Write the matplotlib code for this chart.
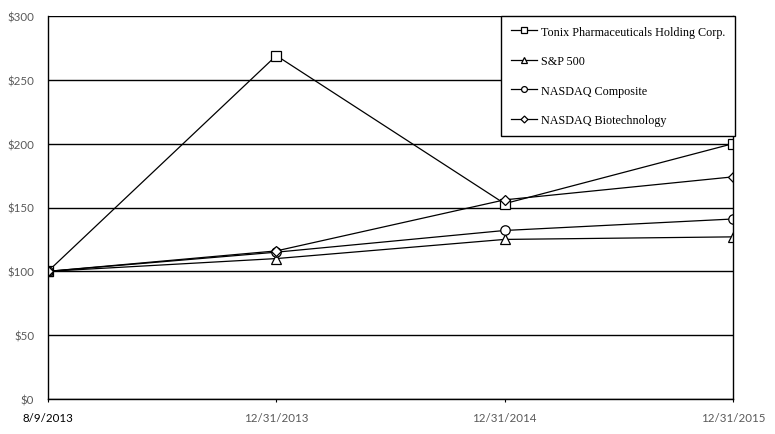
import matplotlib.pyplot as plt

dates = ["8/9/2013", "12/31/2013", "12/31/2014", "12/31/2015"]
tonix = [100, 269, 153, 200]
sp500 = [100, 110, 125, 127]
nasdaq_comp = [100, 115, 132, 141]
nasdaq_bio = [100, 116, 156, 174]

series = [
    ("Tonix Pharmaceuticals Holding Corp.", tonix, "s"),
    ("S&P 500", sp500, "^"),
    ("NASDAQ Composite", nasdaq_comp, "o"),
    ("NASDAQ Biotechnology", nasdaq_bio, "D"),
]

fig = plt.figure(figsize=(7.75, 4.35), dpi=100)
ax = fig.add_axes([48 / 775, 1 - 400 / 435, (733 - 48) / 775, (400 - 17) / 435])

x = list(range(len(dates)))
for label, vals, mk in series:
    ms = 5.5 if mk == "D" else 6.8
    ax.plot(x, vals, color="black", linewidth=0.9, marker=mk, markersize=ms,
            markerfacecolor="white", markeredgecolor="black",
            markeredgewidth=0.9, label=label)

ax.set_xlim(0, 3)
ax.set_ylim(0, 300)
ax.set_yticks(range(0, 301, 50))
ax.set_yticklabels([f"${v}" for v in range(0, 301, 50)], family="Lato")
ax.set_xticks(x)
ax.set_xticklabels(dates, family="Lato")
ax.yaxis.grid(True, color="black", linewidth=1)
ax.set_axisbelow(True)

for side in ["left", "bottom", "right"]:
    ax.spines[side].set_color("black")
    ax.spines[side].set_linewidth(1)
ax.spines["top"].set_visible(False)

ax.tick_params(axis="y", length=0, pad=10, labelsize=8.3, labelcolor="#595959")
ax.tick_params(axis="x", length=2.5, direction="out", pad=7, labelsize=8.3,
               labelcolor="#595959")
ax.get_xticklabels()[0].set_color("black")

leg = ax.legend(loc="upper right", bbox_to_anchor=(735 / 775, 1 - 17 / 435),
                bbox_transform=fig.transFigure, frameon=True, fancybox=False,
                edgecolor="black", borderaxespad=0, labelspacing=1.45,
                handlelength=2.2, handletextpad=0.3, borderpad=0.8,
                prop={"family": "Liberation Serif", "size": 8.7})
leg.get_frame().set_linewidth(1)
leg.get_frame().set_alpha(1)
for h in leg.legend_handles:
    h.set_markersize(3.5 if h.get_marker() == "D" else 4.2)

fig.savefig("out.png", dpi=100)
